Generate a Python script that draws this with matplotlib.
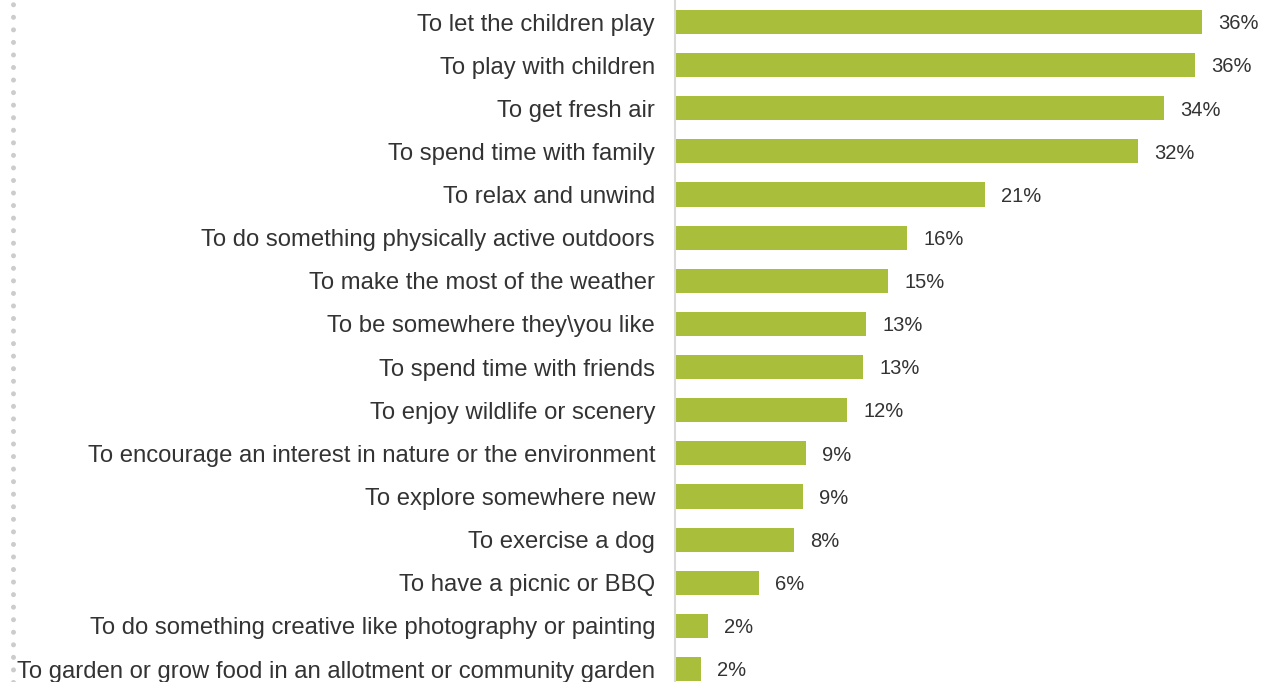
import matplotlib
matplotlib.use("Agg")
import matplotlib.pyplot as plt
from matplotlib.lines import Line2D

# Reasons for visiting, share of respondents (%)
reasons = [
    "To let the children play",
    "To play with children",
    "To get fresh air",
    "To spend time with family",
    "To relax and unwind",
    "To do something physically active outdoors",
    "To make the most of the weather",
    "To be somewhere they\\you like",
    "To spend time with friends",
    "To enjoy wildlife or scenery",
    "To encourage an interest in nature or the environment",
    "To explore somewhere new",
    "To exercise a dog",
    "To have a picnic or BBQ",
    "To do something creative like photography or painting",
    "To garden or grow food in an allotment or community garden",
]
shares = [36.1, 35.6, 33.5, 31.7, 21.2, 15.9, 14.6, 13.1, 12.9, 11.8,
          9.0, 8.8, 8.2, 5.8, 2.3, 1.8]

bar_color = "#a9bf3b"
text_color = "#333333"
plt.rcParams["font.family"] = ["Liberation Sans", "DejaVu Sans"]

fig = plt.figure(figsize=(12.8, 6.82), dpi=100)
ax = fig.add_axes([0.527, 0.0, 0.473, 1.0])

y = list(range(len(reasons)))
ax.barh(y, shares, height=0.56, color=bar_color)

for yi, v in zip(y, shares):
    ax.text(v + 1.1, yi + 0.04, f"{v:.0f}%", va="center", ha="left",
            fontsize=14.5, color=text_color)

ax.set_yticks(y)
ax.set_yticklabels(reasons, fontsize=17.2, color=text_color)
ax.tick_params(axis="y", length=0, pad=14)
ax.set_xticks([])
ax.set_xlim(0, 41.4)
ax.set_ylim(15.30, -0.51)

for side in ["top", "right", "bottom"]:
    ax.spines[side].set_visible(False)
ax.spines["left"].set_color("#d9d9d9")
ax.spines["left"].set_linewidth(1.5)

# dotted rule down the left edge
fig.add_artist(Line2D([13 / 1280, 13 / 1280], [0, 1], transform=fig.transFigure,
                      color="#cccccc", linewidth=3.6,
                      linestyle=(0, (0.01, 2.5)), dash_capstyle="round"))

fig.savefig("out.png", dpi=100)
